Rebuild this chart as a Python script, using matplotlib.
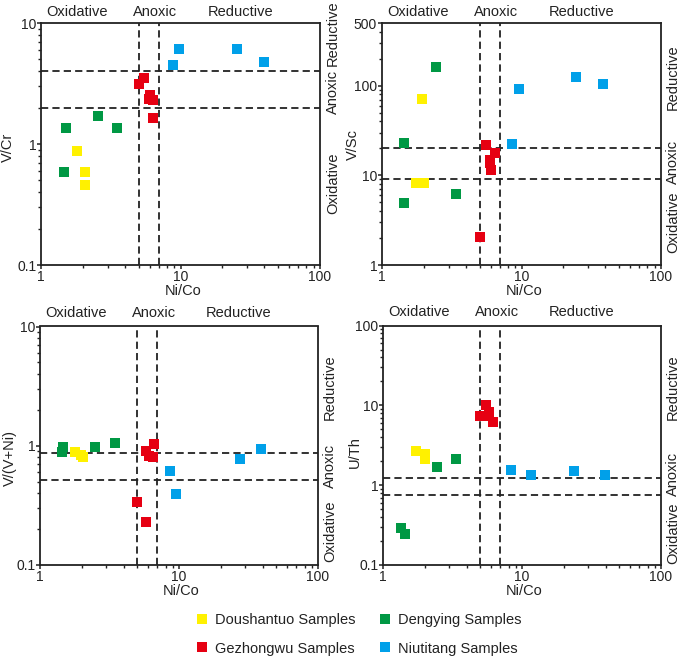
import matplotlib
matplotlib.use('Agg')
import matplotlib.pyplot as plt
from matplotlib.lines import Line2D

plt.rcParams['font.family'] = ['Liberation Sans', 'DejaVu Sans']

# ---------------- data ----------------
groups = ['Doushantuo Samples', 'Dengying Samples', 'Gezhongwu Samples', 'Niutitang Samples']
colors = {'Doushantuo Samples': '#FFF100', 'Dengying Samples': '#009844',
          'Gezhongwu Samples': '#E60012', 'Niutitang Samples': '#00A0E9'}

# Panel 1: V/Cr vs Ni/Co
p1_dst_x = [1.81, 2.08, 2.08]
p1_dst_y = [0.88, 0.59, 0.46]
p1_dy_x = [1.51, 2.56, 3.50, 1.47]
p1_dy_y = [1.36, 1.71, 1.36, 0.59]
p1_gz_x = [5.0, 5.49, 6.06, 5.90, 6.34, 6.34]
p1_gz_y = [3.12, 3.52, 2.56, 2.37, 2.30, 1.64]
p1_nt_x = [9.68, 8.81, 25.3, 39.7]
p1_nt_y = [6.14, 4.47, 6.14, 4.77]

# Panel 2: V/Sc vs Ni/Co
p2_dst_x = [1.94, 1.76, 1.99]
p2_dst_y = [71.2, 8.3, 8.3]
p2_dy_x = [2.45, 1.445, 1.43, 3.39]
p2_dy_y = [162, 23.2, 4.94, 6.12]
p2_gz_x = [5.0, 5.58, 6.48, 5.90, 5.95, 6.03]
p2_gz_y = [2.03, 21.7, 17.8, 15.0, 13.6, 11.6]
p2_nt_x = [8.53, 9.52, 24.6, 38.6]
p2_nt_y = [22.6, 92.8, 125, 105]

# Panel 3: V/(V+Ni) vs Ni/Co
p3_dst_x = [1.78, 1.98, 2.05]
p3_dst_y = [0.88, 0.84, 0.80]
p3_dy_x = [1.47, 1.45, 2.49, 3.46]
p3_dy_y = [0.98, 0.88, 0.98, 1.05]
p3_gz_x = [4.95, 5.75, 6.59, 5.75, 6.07, 6.45]
p3_gz_y = [0.336, 0.231, 1.04, 0.905, 0.827, 0.81]
p3_nt_x = [8.6, 9.44, 27.4, 39.2]
p3_nt_y = [0.619, 0.392, 0.771, 0.94]

# Panel 4: U/Th vs Ni/Co
p4_dst_x = [1.74, 2.02, 2.02]
p4_dst_y = [2.69, 2.44, 2.13]
p4_dy_x = [2.45, 3.35, 1.355, 1.45]
p4_dy_y = [1.71, 2.11, 0.288, 0.245]
p4_gz_x = [4.96, 5.51, 5.82, 5.30, 6.15]
p4_gz_y = [7.45, 10.1, 8.2, 7.45, 6.27]
p4_nt_x = [8.34, 11.6, 23.8, 39.8]
p4_nt_y = [1.55, 1.34, 1.51, 1.34]

ni_co_lines = [5, 7]
p1_hlines = [2, 4]
p2_hlines = [9, 20]
p3_hlines = [0.52, 0.87]
p4_hlines = [0.75, 1.22]

p1_yticks = [0.1, 1, 10]
p2_yticks = [1, 10, 100, 500]
p3_yticks = [0.1, 1, 10]
p4_yticks = [0.1, 1, 10, 100]
xticks = [1, 10, 100]

# ---------------- figure ----------------
fig = plt.figure(figsize=(6.85, 6.62), dpi=100)
W, H = 685.0, 662.0

def ax_at(x0, y0, x1, y1):
    return fig.add_axes([x0 / W, 1 - y1 / H, (x1 - x0) / W, (y1 - y0) / H])

ax1 = ax_at(41, 23, 320, 265)
ax2 = ax_at(382, 23, 661, 265)
ax3 = ax_at(40, 326.5, 318, 565)
ax4 = ax_at(383, 325.7, 661, 565)

panels = [
    (ax1, [(p1_dst_x, p1_dst_y), (p1_dy_x, p1_dy_y), (p1_gz_x, p1_gz_y), (p1_nt_x, p1_nt_y)],
     p1_hlines, (0.1, 10), p1_yticks, 'V/Cr', (-0.118, 0.488), -0.106,
     [('Reductive', 0.958), ('Anoxic', 0.715), ('Oxidative', 0.339)], 1.047, 1.045),
    (ax2, [(p2_dst_x, p2_dst_y), (p2_dy_x, p2_dy_y), (p2_gz_x, p2_gz_y), (p2_nt_x, p2_nt_y)],
     p2_hlines, (1, 500), p2_yticks, 'V/Sc', (-0.104, 0.50), -0.106,
     [('Reductive', 0.777), ('Anoxic', 0.426), ('Oxidative', 0.178)], 1.043, 1.045),
    (ax3, [(p3_dst_x, p3_dst_y), (p3_dy_x, p3_dy_y), (p3_gz_x, p3_gz_y), (p3_nt_x, p3_nt_y)],
     p3_hlines, (0.1, 10), p3_yticks, 'V/(V+Ni)', (-0.108, 0.45), -0.11,
     [('Reductive', 0.746), ('Anoxic', 0.415), ('Oxidative', 0.143)], 1.043, 1.057),
    (ax4, [(p4_dst_x, p4_dst_y), (p4_dy_x, p4_dy_y), (p4_gz_x, p4_gz_y), (p4_nt_x, p4_nt_y)],
     p4_hlines, (0.1, 100), p4_yticks, 'U/Th', (-0.10, 0.47), -0.11,
     [('Reductive', 0.742), ('Anoxic', 0.382), ('Oxidative', 0.134)], 1.043, 1.057),
]

FS = 10.5
dash = (0, (4, 2.3))
for ax, series, hl, ylim, yt, ylab, ylc, xly, rlabels, rx, ty in panels:
    ax.set_xscale('log')
    ax.set_yscale('log')
    for v in ni_co_lines:
        ax.axvline(v, color='#222222', lw=1.3, linestyle=dash, zorder=1)
    for v in hl:
        ax.axhline(v, color='#222222', lw=1.3, linestyle=dash, zorder=1)
    for g, (xs, ys) in zip(groups, series):
        ax.plot(xs, ys, linestyle='none', marker='s', markersize=7.2,
                markeredgewidth=0, color=colors[g], zorder=3, clip_on=False)
    ax.set_xlim(1, 100)
    ax.set_ylim(*ylim)
    ax.set_xticks(xticks)
    ax.set_xticklabels([f'{t:g}' for t in xticks])
    ax.set_yticks(yt)
    ax.set_yticklabels([f'{t:g}' for t in yt])
    ax.tick_params(which='major', direction='out', length=3, width=1.1, pad=0.5,
                   labelsize=10, colors='#222222')
    ax.tick_params(which='minor', direction='out', length=2, width=1.0, colors='#222222')
    ax.tick_params(axis='y', which='minor', labelleft=False)
    ax.tick_params(axis='x', which='minor', labelbottom=False)
    for s in ax.spines.values():
        s.set_linewidth(1.3)
        s.set_color('#222222')
    ax.set_xlabel('Ni/Co', fontsize=FS, color='#222222')
    ax.xaxis.label.set_va('center')
    ax.xaxis.set_label_coords(0.508, xly)
    ax.set_ylabel(ylab, fontsize=FS, color='#222222')
    ax.yaxis.label.set_va('center')
    ax.yaxis.set_label_coords(*ylc)
    for txt, xf in [('Oxidative', 0.13), ('Anoxic', 0.41), ('Reductive', 0.715)]:
        ax.text(xf, ty, txt, transform=ax.transAxes, ha='center', va='center',
                fontsize=FS, color='#222222')
    for txt, yf in rlabels:
        ax.text(rx, yf, txt, transform=ax.transAxes, ha='center', va='center',
                rotation=90, fontsize=FS, color='#222222')

# legend
order = ['Doushantuo Samples', 'Gezhongwu Samples', 'Dengying Samples', 'Niutitang Samples']
handles = [Line2D([], [], linestyle='none', marker='s', markersize=6.5,
                  markeredgewidth=0, color=colors[g]) for g in order]
fig.legend(handles, order, ncol=2, loc='upper left',
           bbox_to_anchor=(196 / W, 1 - 613 / H), frameon=False,
           fontsize=FS, handlelength=0.8, handletextpad=0.5,
           columnspacing=1.6, labelspacing=1.0, borderpad=0, borderaxespad=0,
           labelcolor='#222222')

fig.savefig('out.png', dpi=100)
